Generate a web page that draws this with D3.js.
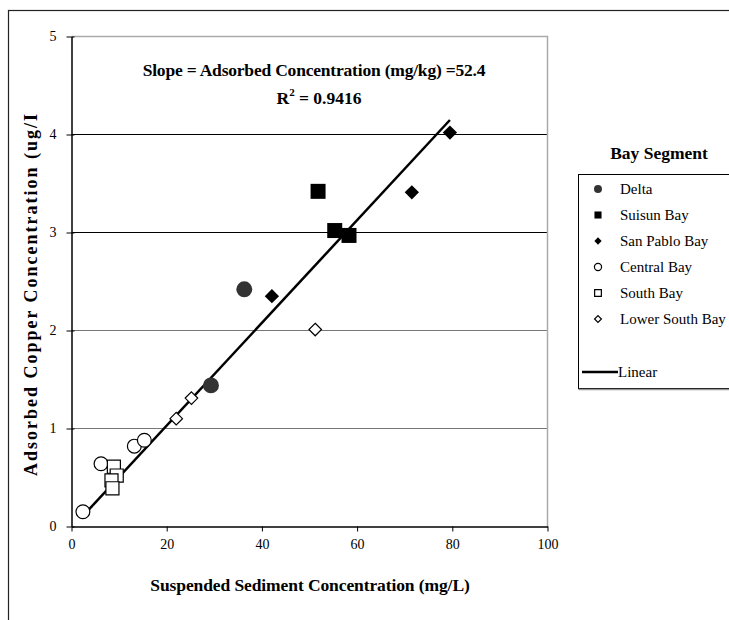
<!DOCTYPE html>
<html>
<head>
<meta charset="utf-8">
<script src="https://cdn.jsdelivr.net/npm/d3@7"></script>
<style>
  body { margin: 0; background: #fff; }
  svg, svg text { font-family: "Liberation Serif", "Times New Roman", serif; }
</style>
</head>
<body>
<svg id="chart" width="729" height="620" font-family="Liberation Serif"></svg>
<script>
// values (x = suspended sediment mg/L, y = adsorbed Cu ug/L)
const deltaX = [36.3, 29.3];
const deltaY = [2.42, 1.44];
const suisunX = [51.8, 55.3, 58.3];
const suisunY = [3.42, 3.02, 2.97];
const sanPabloX = [42.1, 71.5, 79.5];
const sanPabloY = [2.35, 3.41, 4.02];
const centralX = [2.4, 6.2, 13.2, 15.3];
const centralY = [0.15, 0.64, 0.82, 0.88];
const southX = [8.9, 9.5, 8.4, 8.6];
const southY = [0.61, 0.52, 0.47, 0.39];
const lowerSouthX = [51.2, 25.2, 22.0];
const lowerSouthY = [2.01, 1.31, 1.10];

const fitSlope = 0.0524, fitIntercept = -0.018;
const xTicks = [0, 20, 40, 60, 80, 100];
const yTicks = [0, 1, 2, 3, 4, 5];

const svg = d3.select("#chart");
const serif = "Liberation Serif";

// outer chart border
svg.append("rect").attr("x", 8.5).attr("y", 10.5).attr("width", 740).attr("height", 640)
  .attr("fill", "none").attr("stroke", "#222").attr("stroke-width", 1.2);

const x = d3.scaleLinear().domain([0, 100]).range([71.5, 547.5]);
const y = d3.scaleLinear().domain([0, 5]).range([526.5, 36.5]);

// gridlines
const gridColor = {1: "#777", 2: "#777", 3: "#000", 4: "#000"};
svg.append("g").selectAll("line").data([1, 2, 3, 4]).enter().append("line")
  .attr("x1", x(0)).attr("x2", x(100))
  .attr("y1", d => y(d)).attr("y2", d => y(d))
  .attr("stroke", d => gridColor[d]).attr("stroke-width", 1);

// plot frame top/right
svg.append("path")
  .attr("d", `M${x(0)},${y(5)}H${x(100)}V${y(0)}`)
  .attr("fill", "none").attr("stroke", "#aaa").attr("stroke-width", 1.5);

// axes
const xAxis = svg.append("g").attr("transform", `translate(0,${y(0)})`)
  .call(d3.axisBottom(x).tickValues(xTicks).tickFormat(d3.format("d")).tickSize(5).tickPadding(8).tickSizeOuter(0));
const yAxis = svg.append("g").attr("transform", `translate(${x(0)},0)`)
  .call(d3.axisLeft(y).tickValues(yTicks).tickFormat(d3.format("d")).tickSize(5).tickPadding(10).tickSizeOuter(0));
[xAxis, yAxis].forEach(g => {
  g.attr("font-family", serif).attr("font-size", 14);
  g.select(".domain").attr("stroke", "#000").attr("stroke-width", 1.5);
  g.selectAll(".tick line").attr("stroke", "#000");
  g.selectAll("text").attr("fill", "#000");
});
yAxis.selectAll(".tick").append("line").attr("x1", 0).attr("x2", 3).attr("stroke", "#000");

// trend line over data range
const allX = [].concat(deltaX, suisunX, sanPabloX, centralX, southX, lowerSouthX);
const [xmin, xmax] = d3.extent(allX);
svg.append("line")
  .attr("x1", x(xmin)).attr("y1", y(fitSlope * xmin + fitIntercept))
  .attr("x2", x(xmax)).attr("y2", y(fitSlope * xmax + fitIntercept))
  .attr("stroke", "#000").attr("stroke-width", 2.5);

// series
const series = [
  {name: "Delta", xs: deltaX, ys: deltaY, shape: d3.symbolCircle, size: 200, fill: "#333", stroke: "none", lsize: 50},
  {name: "Suisun Bay", xs: suisunX, ys: suisunY, shape: d3.symbolSquare, size: 225, fill: "#000", stroke: "none", lsize: 50},
  {name: "San Pablo Bay", xs: sanPabloX, ys: sanPabloY, shape: d3.symbolDiamond2, size: 130, fill: "#000", stroke: "none", lsize: 34},
  {name: "Central Bay", xs: centralX, ys: centralY, shape: d3.symbolCircle, size: 150, fill: "#fff", stroke: "#000", lsize: 40},
  {name: "South Bay", xs: southX, ys: southY, shape: d3.symbolSquare, size: 170, fill: "#fff", stroke: "#000", lsize: 45},
  {name: "Lower South Bay", xs: lowerSouthX, ys: lowerSouthY, shape: d3.symbolDiamond2, size: 100, fill: "#fff", stroke: "#000", lsize: 30}
];

series.forEach(s => {
  const pts = s.xs.map((v, i) => [v, s.ys[i]]);
  svg.append("g").selectAll("path").data(pts).enter().append("path")
    .attr("d", d3.symbol().type(s.shape).size(s.size))
    .attr("transform", d => `translate(${x(d[0])},${y(d[1])})`)
    .attr("fill", s.fill).attr("stroke", s.stroke).attr("stroke-width", 1.2);
});

// annotation
const ann = svg.append("g").attr("font-family", serif).attr("font-weight", "bold").attr("font-size", 17.5).attr("text-anchor", "middle");
ann.append("text").attr("x", 314).attr("y", 76).attr("letter-spacing", -0.2)
  .text("Slope = Adsorbed Concentration (mg/kg) =52.4");
const r2 = ann.append("text").attr("x", 319).attr("y", 104);
r2.append("tspan").text("R");
r2.append("tspan").attr("font-size", 11).attr("dy", -8).text("2");
r2.append("tspan").attr("dy", 8).text(" = 0.9416");

// axis titles
svg.append("text").attr("x", 310).attr("y", 591).attr("text-anchor", "middle")
  .attr("font-family", serif).attr("font-weight", "bold").attr("font-size", 17.5).attr("letter-spacing", -0.1)
  .text("Suspended Sediment Concentration (mg/L)");
svg.append("text").attr("transform", "translate(37,294) rotate(-90)").attr("text-anchor", "middle")
  .attr("font-family", serif).attr("font-weight", "bold").attr("font-size", 18).attr("letter-spacing", 2)
  .text("Adsorbed Copper Concentration (ug/I");

// legend
svg.append("text").attr("x", 659).attr("y", 159).attr("text-anchor", "middle")
  .attr("font-family", serif).attr("font-weight", "bold").attr("font-size", 17.5).text("Bay Segment");
svg.append("rect").attr("x", 578.5).attr("y", 174.5).attr("width", 170).attr("height", 214)
  .attr("fill", "#fff").attr("stroke", "#000").attr("stroke-width", 1);
svg.append("line").attr("x1", 578.5).attr("x2", 749).attr("y1", 389.5).attr("y2", 389.5)
  .attr("stroke", "#999").attr("stroke-width", 1.5);
const leg = svg.append("g").attr("font-family", serif).selectAll("g").data(series).enter().append("g")
  .attr("transform", (d, i) => `translate(598,${189 + i * 26})`);
leg.append("path").attr("d", d => d3.symbol().type(d.shape).size(d.lsize)())
  .attr("fill", d => d.fill).attr("stroke", d => d.stroke).attr("stroke-width", 1.2);
leg.append("text").attr("x", 22).attr("y", 5).attr("font-size", 15).text(d => d.name);
const lin = svg.append("g").attr("font-family", serif).attr("transform", "translate(582,372)");
lin.append("line").attr("x1", 0).attr("x2", 36).attr("stroke", "#000").attr("stroke-width", 2.5);
lin.append("text").attr("x", 36).attr("y", 5).attr("font-size", 15).text("Linear");
</script>
</body>
</html>
